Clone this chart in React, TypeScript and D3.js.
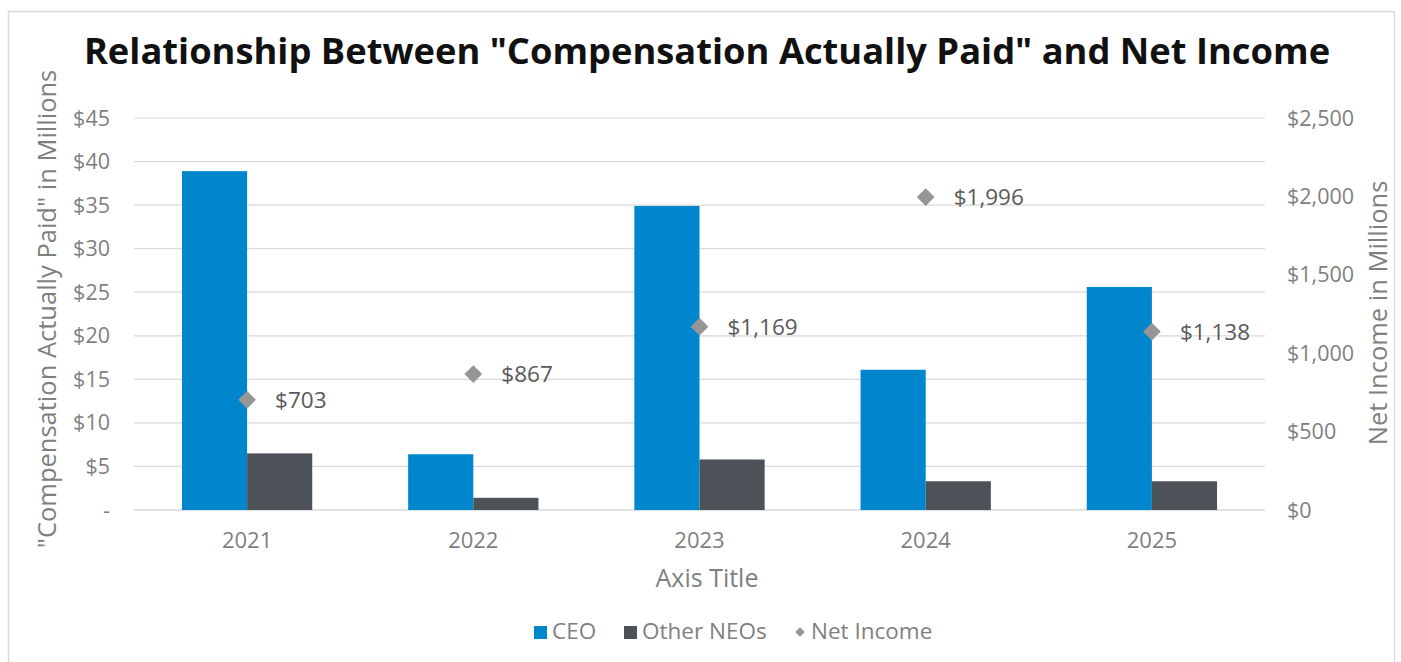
import React from "react";
import * as d3 from "d3";

const years = ["2021", "2022", "2023", "2024", "2025"];
const ceo = [38.9, 6.4, 34.9, 16.1, 25.6];
const otherNeos = [6.5, 1.4, 5.8, 3.3, 3.3];
const netIncome = [703, 867, 1169, 1996, 1138];
const leftTicks = [0, 5, 10, 15, 20, 25, 30, 35, 40, 45];
const rightTicks = [0, 500, 1000, 1500, 2000, 2500];

const W = 1401;
const H = 662;
const FONT = "'Open Sans', 'Noto Sans', sans-serif";
const BLUE = "#0086CD";
const DARK = "#4D5259";
const DIAMOND = "#969696";
const TICK = "#7F7F7F";
const LABEL = "#595959";

export default function App() {
  const left = 134, right = 1265, top = 118, bottom = 510;
  const x = d3.scaleBand<string>().domain(years).range([left, right]).padding(0);
  const yL = d3.scaleLinear().domain([0, 45]).range([bottom, top]);
  const yR = d3.scaleLinear().domain([0, 2500]).range([bottom, top]);
  const barW = x.bandwidth() * 0.288;
  const fmtL = (v: number) => (v === 0 ? "-" : `$${v}`);
  const fmtR = (v: number) => `$${d3.format(",")(v)}`;
  const diamond = d3.symbol().type(d3.symbolDiamond2).size(200)();

  return (
    <svg width={W} height={H} style={{ position: "absolute", left: 0, top: 0, fontFamily: FONT }}>
      <rect x={0} y={0} width={W} height={H} fill="#fff" />
      <rect x={8.5} y={11.5} width={1386} height={H} fill="none" stroke="#D9D9D9" strokeWidth={1.5} />
      <text x={707} y={64} textAnchor="middle" fontSize={36.3} fontWeight={700} fill="#111">
        Relationship Between "Compensation Actually Paid" and Net Income
      </text>
      {leftTicks.map((t) => (
        <line key={"g" + t} x1={left} x2={right} y1={yL(t)} y2={yL(t)} stroke="#D9D9D9" strokeWidth={t === 0 ? 1.5 : 1.2} />
      ))}
      {leftTicks.map((t) => (
        <text key={"l" + t} x={110} y={yL(t) + 7.5} textAnchor="end" fontSize={21.5} fill={TICK}>
          {fmtL(t)}
        </text>
      ))}
      {rightTicks.map((t) => (
        <text key={"r" + t} x={1287} y={yR(t) + 7.5} textAnchor="start" fontSize={21.5} fill={TICK}>
          {fmtR(t)}
        </text>
      ))}
      {years.map((yr, i) => {
        const cx = (x(yr) as number) + x.bandwidth() / 2;
        return (
          <g key={yr}>
            <rect x={cx - barW} y={yL(ceo[i])} width={barW} height={bottom - yL(ceo[i])} fill={BLUE} />
            <rect x={cx} y={yL(otherNeos[i])} width={barW} height={bottom - yL(otherNeos[i])} fill={DARK} />
            <text x={cx} y={548} textAnchor="middle" fontSize={22} fill={TICK}>{yr}</text>
          </g>
        );
      })}
      {years.map((yr, i) => {
        const cx = (x(yr) as number) + x.bandwidth() / 2;
        const cy = yR(netIncome[i]);
        return (
          <g key={"n" + yr}>
            <path d={diamond as string} transform={`translate(${cx},${cy})`} fill={DIAMOND} />
            <text x={cx + 28} y={cy + 8} fontSize={22.5} fill={LABEL}>{fmtR(netIncome[i])}</text>
          </g>
        );
      })}
      <text x={707} y={587} textAnchor="middle" fontSize={25} fill={TICK}>Axis Title</text>
      <text transform={`translate(56,309) rotate(-90)`} textAnchor="middle" fontSize={25.5} fill={TICK}>
        "Compensation Actually Paid" in Millions
      </text>
      <text transform={`translate(1387,313) rotate(-90)`} textAnchor="middle" fontSize={25.5} fill={TICK}>
        Net Income in Millions
      </text>
      <g fontSize={22.5} fill={TICK}>
        <rect x={534} y={626} width={13} height={13} fill={BLUE} />
        <text x={552} y={639}>CEO</text>
        <rect x={624} y={626} width={13} height={13} fill={DARK} />
        <text x={642} y={639}>Other NEOs</text>
        <path d={d3.symbol().type(d3.symbolDiamond2).size(60)() as string} transform="translate(800,632)" fill={DIAMOND} />
        <text x={811} y={639}>Net Income</text>
      </g>
    </svg>
  );
}
